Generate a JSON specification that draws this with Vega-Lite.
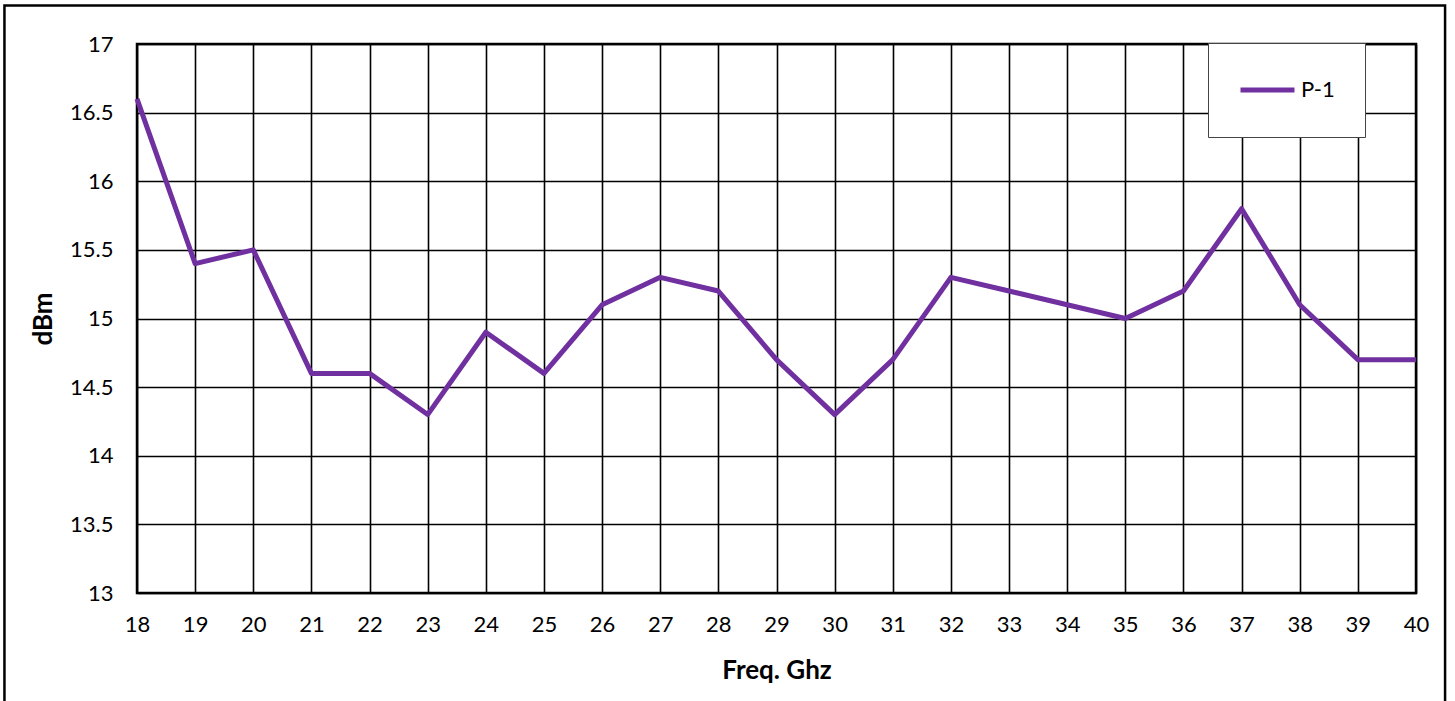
{
  "$schema": "https://vega.github.io/schema/vega-lite/v6.json",
  "width": 1279,
  "height": 549,
  "autosize": {"type": "none"},
  "padding": {"left": 137, "top": 44, "right": 39, "bottom": 108},
  "background": "white",
  "config": {
    "font": "Lato",
    "view": {"stroke": "black", "strokeWidth": 2.5},
    "axis": {
      "labelFont": "Lato",
      "labelFontSize": 22,
      "labelColor": "black",
      "titleFont": "Lato",
      "titleFontSize": 26,
      "titleFontWeight": "bold",
      "titleColor": "black",
      "gridColor": "black",
      "gridOpacity": 1,
      "gridWidth": 1.6,
      "domain": false,
      "ticks": false
    }
  },
  "datasets": {
    "series": [
      {"freq": 18, "dbm": 16.6, "series": "P-1"},
      {"freq": 19, "dbm": 15.4, "series": "P-1"},
      {"freq": 20, "dbm": 15.5, "series": "P-1"},
      {"freq": 21, "dbm": 14.6, "series": "P-1"},
      {"freq": 22, "dbm": 14.6, "series": "P-1"},
      {"freq": 23, "dbm": 14.3, "series": "P-1"},
      {"freq": 24, "dbm": 14.9, "series": "P-1"},
      {"freq": 25, "dbm": 14.6, "series": "P-1"},
      {"freq": 26, "dbm": 15.1, "series": "P-1"},
      {"freq": 27, "dbm": 15.3, "series": "P-1"},
      {"freq": 28, "dbm": 15.2, "series": "P-1"},
      {"freq": 29, "dbm": 14.7, "series": "P-1"},
      {"freq": 30, "dbm": 14.3, "series": "P-1"},
      {"freq": 31, "dbm": 14.7, "series": "P-1"},
      {"freq": 32, "dbm": 15.3, "series": "P-1"},
      {"freq": 33, "dbm": 15.2, "series": "P-1"},
      {"freq": 34, "dbm": 15.1, "series": "P-1"},
      {"freq": 35, "dbm": 15.0, "series": "P-1"},
      {"freq": 36, "dbm": 15.2, "series": "P-1"},
      {"freq": 37, "dbm": 15.8, "series": "P-1"},
      {"freq": 38, "dbm": 15.1, "series": "P-1"},
      {"freq": 39, "dbm": 14.7, "series": "P-1"},
      {"freq": 40, "dbm": 14.7, "series": "P-1"}
    ],
    "frame": [{"x0": 15.72, "x1": 40.5, "y0": 17.28, "y1": 12.0}]
  },
  "layer": [
    {
      "data": {"name": "frame"},
      "mark": {"type": "rect", "fill": null, "stroke": "black", "strokeWidth": 2.5, "clip": false},
      "encoding": {
        "x": {"field": "x0", "type": "quantitative", "scale": {"domain": [18, 40], "nice": false, "zero": false}},
        "x2": {"field": "x1"},
        "y": {"field": "y0", "type": "quantitative", "scale": {"domain": [13, 17], "nice": false, "zero": false}},
        "y2": {"field": "y1"}
      }
    },
    {
      "data": {"name": "series"},
      "mark": {"type": "line", "strokeWidth": 5, "strokeJoin": "round"},
      "encoding": {
        "x": {
          "field": "freq",
          "type": "quantitative",
          "title": "Freq. Ghz",
          "scale": {"domain": [18, 40], "nice": false, "zero": false},
          "axis": {"values": [18,19,20,21,22,23,24,25,26,27,28,29,30,31,32,33,34,35,36,37,38,39,40], "format": "~g", "labelPadding": 21, "titlePadding": 22, "labelFlush": false}
        },
        "y": {
          "field": "dbm",
          "type": "quantitative",
          "title": "dBm",
          "scale": {"domain": [13, 17], "nice": false, "zero": false},
          "axis": {"values": [13,13.5,14,14.5,15,15.5,16,16.5,17], "format": "~g", "labelPadding": 24, "titlePadding": 13, "labelFlush": false}
        },
        "color": {
          "field": "series",
          "type": "nominal",
          "scale": {"range": ["#7030A0"]},
          "legend": {
            "title": null,
            "orient": "none",
            "legendX": 1071,
            "legendY": -1,
            "symbolType": "stroke",
            "symbolSize": 2916,
            "symbolStrokeWidth": 5,
            "clipHeight": 34,
            "labelFontSize": 22,
            "labelColor": "black",
            "labelOffset": 4,
            "padding": 30,
            "strokeColor": "#444",
            "fillColor": "white",
            "cornerRadius": 0
          }
        }
      }
    }
  ]
}
